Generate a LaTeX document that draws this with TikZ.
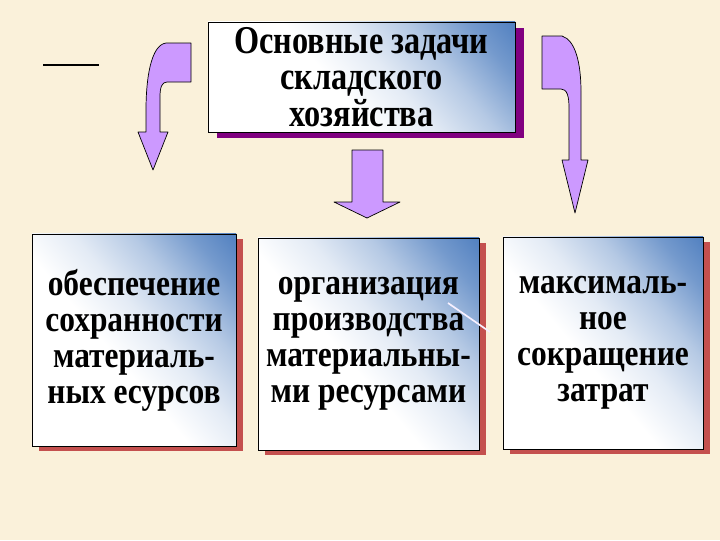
\documentclass[tikz,border=0pt]{standalone}
\usepackage{fontspec}
\setmainfont{Liberation Serif}
\newfontfamily\boxfont{Liberation Serif}[FakeStretch=0.86]
\newfontfamily\headfont{Liberation Serif}[FakeStretch=0.82]
\usepackage{tikz}
\usetikzlibrary{shadows}
\definecolor{bgcream}{RGB}{250,241,218}
\definecolor{boxblue}{RGB}{70,120,188}
\definecolor{lilac}{RGB}{204,153,255}
\definecolor{shadowred}{RGB}{196,80,78}
\definecolor{shadowpurple}{RGB}{128,0,128}
\pgfdeclarehorizontalshading{taskshade}{100bp}{color(0bp)=(white); color(44bp)=(white);
  color(55bp)=(boxblue!15!white); color(66bp)=(boxblue!40!white);
  color(77bp)=(boxblue!75!white); color(88bp)=(boxblue); color(100bp)=(boxblue)}

\begin{document}
\begin{tikzpicture}[x=0.025cm,y=-0.025cm,
  task/.style={draw=black,line width=0.6pt,shading=taskshade,shading angle=40,
    align=center,inner sep=0pt,font=\boxfont\bfseries\fontsize{26}{25.6}\selectfont},
  redshadow/.style={general shadow={fill=shadowred,shadow xshift=0.175cm,shadow yshift=-0.13cm}},
  blockarrow/.style={fill=lilac,draw=black,line width=0.5pt,line join=round}]
  % background
  \fill[bgcream] (0,0) rectangle (720,540);
  % dash at the top left
  \draw[line width=1.5pt] (43,65) -- (99,65);
  % main task
  \node[task,minimum width=7.675cm,minimum height=2.75cm,
    font=\headfont\bfseries\fontsize{28}{26}\selectfont,
    general shadow={fill=shadowpurple,shadow xshift=0.22cm,shadow yshift=-0.14cm}]
    (main) at (361.5,77) {Основные задачи\\складского\\хозяйства};
  % arrows
  \draw[blockarrow] (191,43) -- (166,43) .. controls (151,45) and (146,78) .. (146,110)
    -- (146,132) -- (138,132) -- (153,170) -- (168,132) -- (160,132) -- (160,97)
    .. controls (160,87) and (162,82) .. (167,82) -- (191,82) -- cycle;
  \draw[blockarrow] (352,150) -- (383,150) -- (383,202) -- (400,202) -- (367,218)
    -- (334,202) -- (352,202) -- cycle;
  \draw[blockarrow] (542,36) -- (562,36) .. controls (575,40) and (581,62) .. (581,92)
    -- (581,160) -- (588,160) -- (575,213) -- (562,160) -- (569,160) -- (569,108)
    .. controls (569,96) and (567,89) .. (561,89) -- (542,89) -- cycle;
  % three tasks
  \node[task,redshadow,minimum width=5.1cm,minimum height=5.3cm] (safety) at (134,340)
    {обеспечение\\сохранности\\материаль-\\ных есурсов};
  \node[task,redshadow,minimum width=5.525cm,minimum height=5.3cm] (supply) at (368.5,344)
    {организация\\производства\\материальны-\\ми ресурсами};
  \node[task,redshadow,minimum width=5cm,minimum height=5.3cm] (costs) at (603,343)
    {максималь-\\ное\\сокращение\\затрат};
  % pale stroke across the middle box
  \coordinate (p1) at (448,303);
  \coordinate (p2) at (490,332);
  \draw[white!85!lilac,line width=1.2pt] (p1) -- (p2);
\end{tikzpicture}
\end{document}
